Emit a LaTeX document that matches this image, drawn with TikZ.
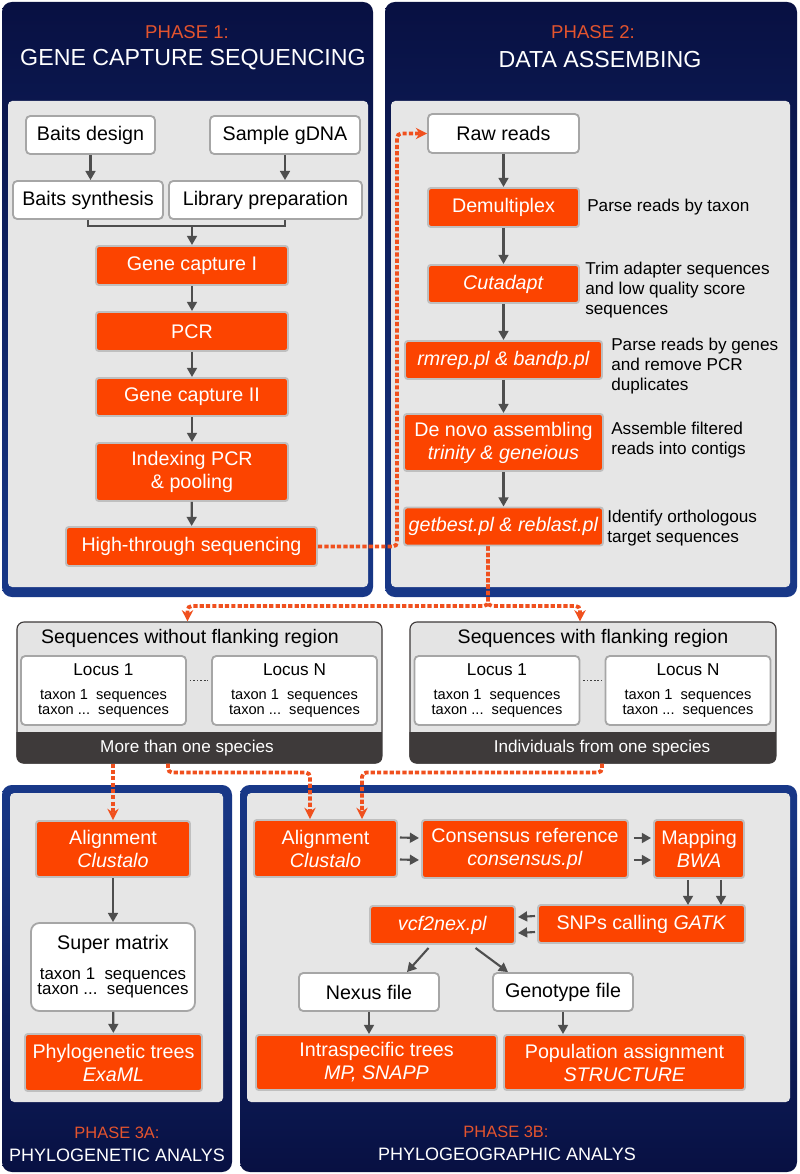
\documentclass[tikz,border=0pt]{standalone}
\usepackage{fontspec}
\setmainfont{Liberation Sans}
\usetikzlibrary{arrows.meta,calc}

\definecolor{navydark}{RGB}{8,16,66}
\definecolor{navylight}{RGB}{24,56,136}
\definecolor{panelgray}{RGB}{230,230,230}
\definecolor{boxorange}{RGB}{252,68,0}
\definecolor{floworange}{RGB}{240,80,30}
\definecolor{titleorange}{RGB}{228,84,46}
\definecolor{seqdark}{RGB}{62,58,58}
\definecolor{seqgray}{RGB}{228,228,228}
\definecolor{arrgray}{RGB}{78,78,78}

\begin{document}
\begin{tikzpicture}[
    x=0.025cm, y=-0.025cm,
    wh/.style 2 args={minimum width=#1*0.025cm, minimum height=#2*0.025cm},
    obox/.style={draw=black!25, line width=1.4pt, fill=boxorange, text=white,
                 rounded corners=2pt, inner sep=0pt, align=center,
                 font=\fontsize{14}{16.4}\selectfont},
    wbox/.style={draw=black!35, line width=1.3pt, fill=white, text=black,
                 rounded corners=3pt, inner sep=0pt, align=center,
                 font=\fontsize{14}{16.4}\selectfont},
    locus/.style={wbox, wh={165}{69}, font=\fontsize{10.4}{10.2}\selectfont},
    seqbox/.style={draw=seqdark, line width=0.8pt, fill=seqgray,
                   rounded corners=5pt, inner sep=0pt},
    note/.style={anchor=west, align=left, inner sep=0pt, font=\fontsize{12.2}{14.2}\selectfont},
    phase/.style={text=titleorange, font=\fontsize{13.2}{15}\selectfont},
    phasename/.style={text=white, font=\fontsize{16.5}{18}\selectfont},
    arr/.style={draw=arrgray, line width=1.5pt, -{Triangle[length=6.5pt,width=7pt]}},
    flow/.style={draw=floworange, line width=2.7pt, dash pattern=on 3pt off 1.5pt,
                 rounded corners=3pt, -{Stealth[length=8pt,width=8pt]}},
    dotline/.style={draw=black!75, line width=1.1pt, dash pattern=on 1.1pt off 1.4pt}
  ]
  \useasboundingbox (0,0) rectangle (800,1174);
  \fill[white] (0,0) rectangle (800,1174);

  % panels
  \shade[top color=navydark, bottom color=navylight, rounded corners=7pt] (2,2) rectangle (373,597);
  \shade[top color=navydark, bottom color=navylight, rounded corners=7pt] (385,2) rectangle (797,597);
  \shade[top color=navylight, bottom color=navydark, rounded corners=7pt] (2,785) rectangle (232,1172);
  \shade[top color=navylight, bottom color=navydark, rounded corners=7pt] (240,785) rectangle (797,1172);
  \fill[panelgray, rounded corners=3pt] (8,101) rectangle (368,587);
  \fill[panelgray, rounded corners=3pt] (391,101) rectangle (790,587);
  \fill[panelgray, rounded corners=3pt] (10,793) rectangle (223,1102);
  \fill[panelgray, rounded corners=3pt] (247,793) rectangle (790,1102);

  \node[phase] (t1a) at (187,32) {PHASE 1:};
  \node[phasename] (t1b) at (193,60) {GENE CAPTURE SEQUENCING};
  \node[phase] (t2a) at (593,32) {PHASE 2:};
  \node[phasename] (t2b) at (600,60) {DATA ASSEMBING};
  \node[phase, font=\fontsize{11.7}{14}\selectfont] (t3a) at (117,1133) {PHASE 3A:};
  \node[phasename, font=\fontsize{12.8}{15}\selectfont] (t3b) at (117,1155) {PHYLOGENETIC ANALYS};
  \node[phase, font=\fontsize{11.7}{14}\selectfont] (t4a) at (506,1132) {PHASE 3B:};
  \node[phasename, font=\fontsize{12.8}{15}\selectfont] (t4b) at (507,1154) {PHYLOGEOGRAPHIC ANALYS};

  % phase 1
  \node[wbox, wh={129}{38}] (design) at (90.5,135) {Baits design};
  \node[wbox, wh={150}{38}] (gdna) at (285,135) {Sample gDNA};
  \node[wbox, wh={150}{38}] (synth) at (88,200) {Baits synthesis};
  \node[wbox, wh={193}{38}] (libprep) at (265.5,200) {Library preparation};
  \node[obox, wh={192}{39}] (cap1) at (192,265.5) {Gene capture I};
  \node[obox, wh={192}{39}] (pcr) at (192,331.5) {PCR};
  \node[obox, wh={192}{38}] (cap2) at (192,397) {Gene capture II};
  \node[obox, wh={192}{58}] (index) at (192,472) {Indexing PCR\\\& pooling};
  \node[obox, wh={251}{39}] (hts) at (191.5,546.5) {High-through sequencing};

  \draw[arr] (design) -- (design |- synth.north);
  \draw[arr] (gdna) -- (gdna |- libprep.north);
  \coordinate (join) at (192,226);
  \draw[draw=arrgray, line width=1.5pt] (synth.south) |- (join) -| (libprep.south -| gdna);
  \draw[arr] (join) -- (cap1);
  \foreach \a/\b in {cap1/pcr, pcr/cap2, cap2/index, index/hts}
    \draw[arr] (\a) -- (\b);

  % phase 2
  \node[wbox, wh={151}{39}] (raw) at (503.5,133.5) {Raw reads};
  \node[obox, wh={151}{39}] (demux) at (503.5,207.5) {Demultiplex};
  \node[obox, wh={151}{38}] (cutadapt) at (503.5,284) {\textit{Cutadapt}};
  \node[obox, wh={197}{38}] (rmrep) at (503.5,360) {\textit{rmrep.pl \& bandp.pl}};
  \node[obox, wh={199}{57}] (denovo) at (503.5,442.5) {De novo assembling\\\textit{trinity \& geneious}};
  \node[obox, wh={199}{38}] (getbest) at (503.5,526.5) {\textit{getbest.pl \& reblast.pl}};
  \foreach \a/\b in {raw/demux, demux/cutadapt, cutadapt/rmrep, rmrep/denovo, denovo/getbest}
    \draw[arr] (\a) -- (\b);

  \node[note] (n1) at (587,207) {Parse reads by taxon};
  \node[note] (n2) at (585,290) {Trim adapter sequences\\and low quality score\\sequences};
  \node[note] (n3) at (611,366) {Parse reads by genes\\and remove PCR\\duplicates};
  \node[note] (n4) at (611,440) {Assemble filtered\\reads into contigs};
  \node[note] (n5) at (607,528) {Identify orthologous\\target sequences};

  \draw[flow] (hts.east) -| ($(raw.west)+(-30,0)$) -- (raw.west);

  % sequence sets
  \node[seqbox, wh={365}{141}] (seqL) at (199.5,692.5) {};
  \node[seqbox, wh={366}{141}] (seqR) at (593,692.5) {};
  \foreach \s in {seqL, seqR} {
    \begin{scope}
      \clip[rounded corners=5pt] (\s.south west) rectangle (\s.north east);
      \fill[seqdark] (\s.south west) rectangle ($(\s.east)+(0,39.5)$);
    \end{scope}
  }
  \node[font=\fontsize{13.9}{16}\selectfont] (seqLt) at (190,638) {Sequences without flanking region};
  \node[font=\fontsize{13.9}{16}\selectfont] (seqRt) at (593,638) {Sequences with flanking region};
  \node[text=white, font=\fontsize{12.2}{14}\selectfont] (seqLb) at (187,748) {More than one species};
  \node[text=white, font=\fontsize{12.2}{14}\selectfont] (seqRb) at (602,748) {Individuals from one species};

  \node[locus] (locL1) at (103.5,690.5) {{\fontsize{12.2}{14}\selectfont Locus 1}\\[7pt]taxon 1\ \ sequences\\taxon ...\ \ sequences};
  \node[locus] (locLN) at (294.5,690.5) {{\fontsize{12.2}{14}\selectfont Locus N}\\[7pt]taxon 1\ \ sequences\\taxon ...\ \ sequences};
  \node[locus] (locR1) at (497,690.5) {{\fontsize{12.2}{14}\selectfont Locus 1}\\[7pt]taxon 1\ \ sequences\\taxon ...\ \ sequences};
  \node[locus] (locRN) at (688,690.5) {{\fontsize{12.2}{14}\selectfont Locus N}\\[7pt]taxon 1\ \ sequences\\taxon ...\ \ sequences};
  \draw[dotline] ($(locL1.east)+(3,-10)$) -- ($(locLN.west)+(-3,-10)$);
  \draw[dotline] ($(locR1.east)+(3,-10)$) -- ($(locRN.west)+(-3,-10)$);

  \coordinate (split) at (488,606);
  \draw[flow] (getbest.south -| split) -- (split) -| ($(seqL.north)+(-12,0)$);
  \draw[flow] (getbest.south -| split) -- (split) -| ($(seqR.north)+(-13,0)$);

  % phase 3A
  \node[obox, wh={154}{56}] (aln3a) at (113,849) {Alignment\\\textit{Clustalo}};
  \node[wbox, wh={164}{88}, rounded corners=6pt, font=\fontsize{12}{10.7}\selectfont] (supmat) at (113,967)
    {{\fontsize{14}{16}\selectfont Super matrix}\\[9pt]taxon 1\ \ sequences\\taxon ...\ \ sequences};
  \node[obox, wh={177}{57}] (phytree) at (113.5,1062.5) {Phylogenetic trees\\\textit{ExaML}};
  \draw[arr] (aln3a) -- (supmat);
  \draw[arr] (supmat) -- (phytree);

  % phase 3B
  \node[obox, wh={143}{57}] (aln3b) at (325.5,848.5) {Alignment\\\textit{Clustalo}};
  \node[obox, wh={206}{58}] (consref) at (525,849) {Consensus reference\\\textit{consensus.pl}};
  \node[obox, wh={90}{58}] (mapping) at (699,849) {Mapping\\\textit{BWA}};
  \node[obox, wh={207}{38}] (snps) at (641.5,924) {SNPs calling\ \textit{GATK}};
  \node[obox, wh={145}{38}] (vcf) at (442.5,925) {\textit{vcf2nex.pl}};
  \node[wbox, wh={140}{38}] (nexus) at (369,992) {Nexus file};
  \node[wbox, wh={140}{38}] (genotype) at (563,992) {Genotype file};
  \node[obox, wh={241}{55}] (intra) at (376.5,1062.5) {Intraspecific trees\\\textit{MP, SNAPP}};
  \node[obox, wh={241}{55}] (popassign) at (624.5,1062.5) {Population assignment\\\textit{STRUCTURE}};

  \foreach \dy in {-11,11} {
    \draw[arr] ($(aln3b.east)+(2,\dy)$) -- ($(consref.west)+(-2,\dy)$);
    \draw[arr] ($(consref.east)+(5,\dy)$) -- ($(mapping.west)+(-2,\dy)$);
  }
  \foreach \dx in {-11,22}
    \draw[arr] ($(mapping.south)+(\dx,1)$) -- ($(mapping.south)+(\dx,26)$);
  \foreach \dy in {-8,8}
    \draw[arr] ($(snps.west)+(-2,\dy)$) -- ($(vcf.east)+(2,\dy)$);
  \draw[arr] ($(vcf.south)+(-14,3)$) -- ($(nexus.north)+(38,0)$);
  \draw[arr] ($(vcf.south)+(33,3)$) -- ($(genotype.north)+(-55,0)$);
  \draw[arr] (nexus) -- (nexus |- intra.north);
  \draw[arr] (genotype) -- (genotype |- popassign.north);

  % flows into phase 3
  \draw[flow] (seqL.south -| aln3a) -- (aln3a.north);
  \draw[flow] ($(seqL.south)+(-31.5,0)$) -- ++(0,9) -| ($(aln3b.north)+(-15.5,0)$);
  \draw[flow] ($(seqR.south)+(9,0)$) -- ++(0,9) -| ($(aln3b.north)+(36.5,0)$);
\end{tikzpicture}
\end{document}
